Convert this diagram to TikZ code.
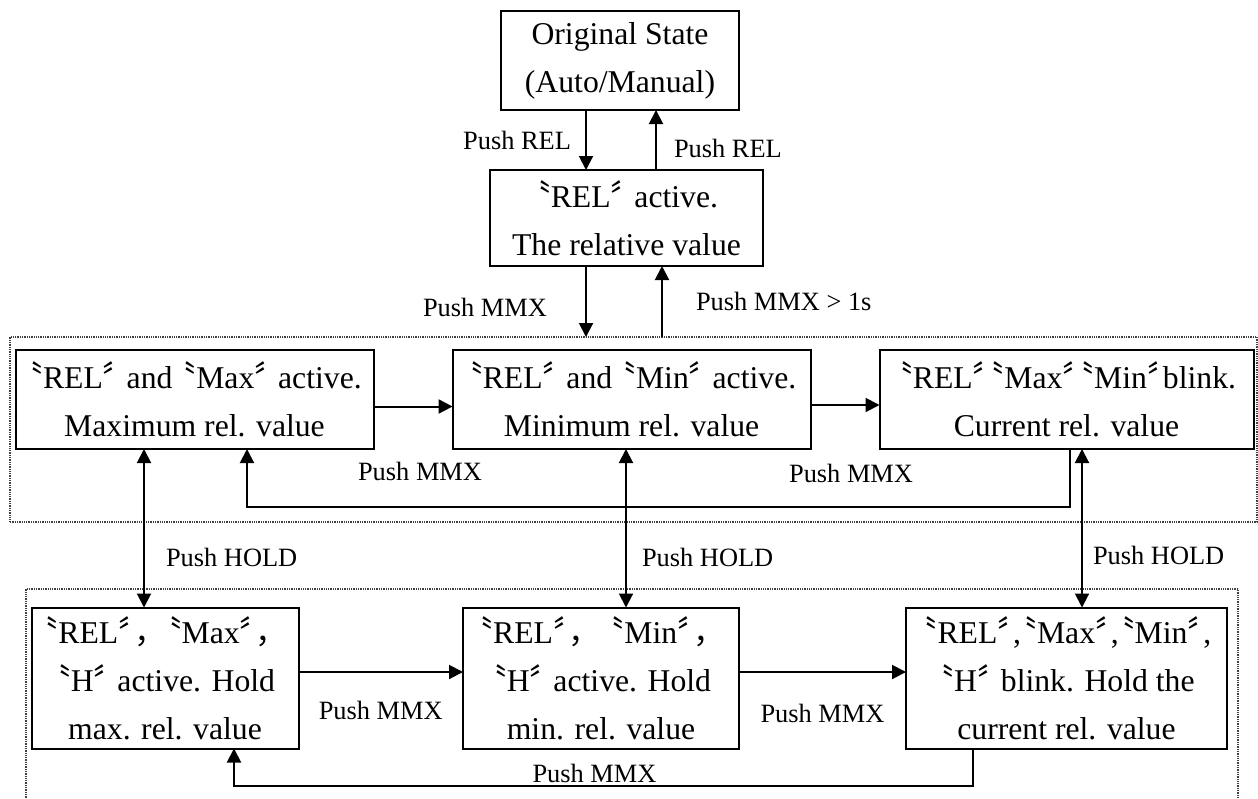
\documentclass[tikz,border=0pt]{standalone}
\usepackage{fontspec}
\setmainfont{Liberation Serif}
\newfontfamily\cjk{Noto Sans CJK SC}
\newfontfamily\cjkh[RawFeature=+halt]{Noto Sans CJK SC}
\usetikzlibrary{arrows.meta,positioning}
\newcommand\qopen{{\cjkh 〝}}
\newcommand\qclose{{\cjkh 〞}}
\newcommand\fwcomma{{\cjk ，}}

\begin{document}
\begin{tikzpicture}[x=1pt,y=-1pt,->,>={Triangle[length=14pt,width=14pt]},line width=2pt,
  state/.style={rectangle,draw,line width=2pt,align=center,inner sep=0pt,outer sep=0pt,font=\fontsize{31.7pt}{48pt}\selectfont},
  zone/.style={rectangle,draw,densely dotted,line width=1.3pt,black!75,inner sep=0pt,outer sep=0pt},
  lbl/.style={font=\fontsize{26.4pt}{30pt}\selectfont,inner sep=0pt}]
  \useasboundingbox (0,0) rectangle (1258,798);

  \node[zone,minimum width=1247pt,minimum height=185pt] (zone1) at (633.5,429.5) {};
  \node[zone,minimum width=1212pt,minimum height=230pt] (zone2) at (632,704) {};

  \node[state,minimum width=238pt,minimum height=99pt] (orig) at (620,60.5) {Original State\\(Auto/Manual)};
  \node[state,minimum width=273pt,minimum height=96pt] (rel) at (626.5,218) {\qopen REL\qclose\ active.\\The relative value};
  \node[state,minimum width=358pt,minimum height=99pt] (max) at (194.5,399.5) {\qopen REL\qclose\ and \qopen Max\qclose\ active.\\Maximum rel. value};
  \node[state,minimum width=358pt,minimum height=99pt] (min) at (631.6,399.5) {\qopen REL\qclose\ and \qopen Min\qclose\ active.\\Minimum rel. value};
  \node[state,minimum width=374pt,minimum height=99pt] (cur) at (1066.5,399.5) {\qopen REL\qclose\qopen Max\qclose\qopen Min\qclose blink.\\Current rel. value};
  \node[state,minimum width=267pt,minimum height=141pt] (hmax) at (165,678) {\qopen REL\qclose\fwcomma\qopen Max\qclose\fwcomma\\\qopen H\qclose\ active. Hold\\max. rel. value};
  \node[state,minimum width=276pt,minimum height=141pt] (hmin) at (601,678) {\qopen REL\qclose\fwcomma\ \qopen Min\qclose\fwcomma\\\qopen H\qclose\ active. Hold\\min. rel. value};
  \node[state,minimum width=321pt,minimum height=141pt] (hcur) at (1066.5,678) {\qopen REL\qclose,\qopen Max\qclose,\qopen Min\qclose,\\\qopen H\qclose\ blink. Hold the\\current rel. value};

  \draw (586,0 |- orig.south) -- node[lbl,left=14pt] {Push REL} (586,0 |- rel.north);
  \draw (656,0 |- rel.north) -- node[lbl,right=17pt,yshift=-8pt] {Push REL} (656,0 |- orig.south);
  \draw (586,0 |- rel.south) -- node[lbl,left=38pt,yshift=-6pt] {Push MMX} (586,0 |- zone1.north);
  \draw (662,0 |- zone1.north) -- node[lbl,right=33pt] {Push MMX > 1s} (662,0 |- rel.south);

  \draw ([yshift=-7pt]max.east) -- node[lbl,xshift=7pt,yshift=-65pt] {Push MMX} ([yshift=-7pt]min.west);
  \draw ([yshift=-5.5pt]min.east) -- node[lbl,xshift=6pt,yshift=-68pt] {Push MMX} ([yshift=-5.5pt]cur.west);
  \draw (1070,0 |- cur.south) -- (1070,507) -| (247,0 |- max.south);

  \draw[<->] (144,0 |- max.south) -- node[lbl,right=21pt,yshift=-29pt] {Push HOLD} (144,0 |- hmax.north);
  \draw[<->] (626,0 |- min.south) -- node[lbl,right=15pt,yshift=-29pt] {Push HOLD} (626,0 |- hmin.north);
  \draw[<->] (1082,0 |- cur.south) -- node[lbl,right=10pt,yshift=-27pt] {Push HOLD} (1082,0 |- hcur.north);

  \draw ([yshift=6pt]hmax.east) -- node[lbl,yshift=-38pt] {Push MMX} ([yshift=6pt]hmin.west);
  \draw ([yshift=6pt]hmin.east) -- node[lbl,yshift=-41pt] {Push MMX} ([yshift=6pt]hcur.west);
  \draw (973,0 |- hcur.south) -- (973,786) -| node[lbl,pos=0.25,xshift=-9pt,yshift=13pt] {Push MMX} (234,0 |- hmax.south);
\end{tikzpicture}
\end{document}
